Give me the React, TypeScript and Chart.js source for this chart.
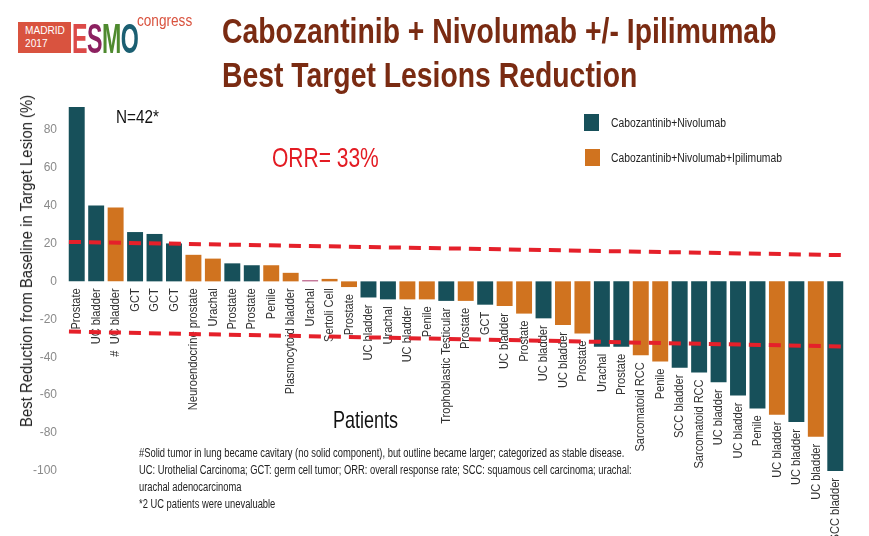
import React, { useEffect, useRef } from "react";
import { Chart, registerables } from "chart.js";

Chart.register(...registerables);

// ---- data ----
const patientLabels = [
  "Prostate", "UC bladder", "#  UC bladder", "GCT", "GCT", "GCT",
  "Neuroendocrine prostate", "Urachal", "Prostate", "Prostate", "Penile",
  "Plasmocytoid bladder", "Urachal", "Sertoli Cell", "Prostate", "UC bladder",
  "Urachal", "UC bladder", "Penile", "Trophoblastic Testicular", "Prostate",
  "GCT", "UC bladder", "Prostate", "UC bladder", "UC bladder", "Prostate",
  "Urachal", "Prostate", "Sarcomatoid RCC", "Penile", "SCC bladder",
  "Sarcomatoid RCC", "UC bladder", "UC bladder", "Penile", "UC bladder",
  "UC bladder", "UC bladder", "SCC bladder",
];

const reductionValues = [
  92, 40, 39, 26, 25, 20, 14, 12, 9.5, 8.5, 8.5, 4.5, 0.6, 1.3, -3, -8.5,
  -9.5, -9.5, -9.5, -10.3, -10.3, -12.3, -13, -17, -19.5, -23, -27.5, -34.5,
  -34.5, -39, -42.3, -45.5, -48, -53.2, -60.2, -67, -70.3, -74.2, -82, -100,
];

const treatmentArm = [
  "CN", "CN", "CNI", "CN", "CN", "CN", "CNI", "CNI", "CN", "CN", "CNI", "CNI",
  "OTHER", "CNI", "CNI", "CN", "CN", "CNI", "CNI", "CN", "CNI", "CN", "CNI",
  "CNI", "CN", "CNI", "CNI", "CN", "CN", "CNI", "CNI", "CN", "CN", "CN", "CN",
  "CN", "CNI", "CN", "CNI", "CN",
];

const yTickValues = [80, 60, 40, 20, 0, -20, -40, -60, -80, -100];

// dashed reference lines: start/end positions (bar index units) and values
const thresholdSpan = [-0.4, 39.6];
const upperThreshold = [20.8, 13.8];
const lowerThreshold = [-26.5, -34.4];

const armColors: Record<string, string> = {
  CN: "#17505a",
  CNI: "#d0731f",
  OTHER: "#b5527e",
};

const FONT = '"Liberation Sans", Arial, Helvetica, sans-serif';

const barLabelPlugin = {
  id: "barLabels",
  beforeDatasetsDraw(chart: any) {
    const ctx = chart.ctx;
    const xs = chart.scales.x;
    const ys = chart.scales.y;
    ctx.save();
    ctx.font = `13.5px ${FONT}`;
    ctx.fillStyle = "#333333";
    ctx.textAlign = "right";
    ctx.textBaseline = "middle";
    patientLabels.forEach((lab, i) => {
      const x = xs.getPixelForValue(i);
      const y = ys.getPixelForValue(Math.min(0, reductionValues[i])) + 7;
      ctx.save();
      ctx.translate(x, y);
      ctx.rotate(-Math.PI / 2);
      ctx.scale(0.82, 1);
      ctx.fillText(lab, 0, 0);
      ctx.restore();
    });
    ctx.restore();
  },
};

const thresholdPlugin = {
  id: "thresholds",
  afterDatasetsDraw(chart: any) {
    const ctx = chart.ctx;
    const xs = chart.scales.x;
    const ys = chart.scales.y;
    ctx.save();
    ctx.strokeStyle = "#e5202a";
    ctx.lineWidth = 4;
    ctx.setLineDash([12, 8]);
    [upperThreshold, lowerThreshold].forEach((vals) => {
      ctx.beginPath();
      ctx.moveTo(xs.getPixelForValue(thresholdSpan[0]), ys.getPixelForValue(vals[0]));
      ctx.lineTo(xs.getPixelForValue(thresholdSpan[1]), ys.getPixelForValue(vals[1]));
      ctx.stroke();
    });
    ctx.restore();
  },
};

function Txt(props: {
  x: number;
  baseline: number;
  size: number;
  color?: string;
  weight?: string | number;
  scale?: number;
  children: React.ReactNode;
}) {
  const { x, baseline, size, color = "#222", weight = "normal", scale = 1 } = props;
  return (
    <div
      style={{
        position: "absolute",
        left: x,
        top: baseline - 0.8465 * size,
        fontSize: size,
        lineHeight: `${size}px`,
        whiteSpace: "nowrap",
        color,
        fontWeight: weight as any,
        transform: `scaleX(${scale})`,
        transformOrigin: "left top",
        fontFamily: FONT,
      }}
    >
      {props.children}
    </div>
  );
}

export default function App() {
  const ref = useRef<HTMLCanvasElement>(null);

  useEffect(() => {
    const chart = new Chart(ref.current as HTMLCanvasElement, {
      type: "bar",
      data: {
        labels: patientLabels,
        datasets: [
          {
            data: reductionValues,
            backgroundColor: treatmentArm.map((a) => armColors[a]),
            borderWidth: 0,
            barPercentage: 0.82,
            categoryPercentage: 1,
          },
        ],
      },
      options: {
        animation: false,
        responsive: false,
        layout: { padding: { top: 105, bottom: 65, left: 0, right: 24 } },
        plugins: { legend: { display: false }, tooltip: { enabled: false } },
        scales: {
          x: { type: "category", display: false, offset: true },
          y: {
            min: -100,
            max: 93,
            border: { display: false },
            grid: { display: false, drawTicks: false },
            ticks: {
              color: "#8a8a8a",
              padding: 10,
              font: { size: 12, family: FONT },
            },
            afterBuildTicks: (scale: any) => {
              scale.ticks = yTickValues.map((v) => ({ value: v }));
            },
            afterFit: (scale: any) => {
              scale.width = 67;
            },
          },
        },
      } as any,
      plugins: [barLabelPlugin, thresholdPlugin],
    });
    return () => chart.destroy();
  }, []);

  return (
    <div
      style={{
        position: "absolute",
        left: 0,
        top: 0,
        width: 869,
        height: 536,
        background: "#fff",
        overflow: "hidden",
        fontFamily: FONT,
      }}
    >
      <canvas
        ref={ref}
        width={869}
        height={536}
        style={{ position: "absolute", left: 0, top: 0, width: 869, height: 536 }}
      />

      {/* logo */}
      <div style={{ position: "absolute", left: 18, top: 22, width: 53, height: 31, background: "#d9533f" }} />
      <Txt x={25} baseline={35} size={11.5} color="#fff" scale={0.88}>MADRID</Txt>
      <Txt x={25} baseline={48} size={11.5} color="#fff" scale={0.88}>2017</Txt>
      <div
        style={{
          position: "absolute",
          left: 72,
          top: 53 - 0.8465 * 43,
          fontSize: 43,
          lineHeight: "43px",
          fontWeight: "bold",
          whiteSpace: "nowrap",
          transform: "scaleX(0.54)",
          transformOrigin: "left top",
          letterSpacing: -1,
        }}
      >
        <span style={{ color: "#dc4a48" }}>E</span>
        <span style={{ color: "#8c2060" }}>S</span>
        <span style={{ color: "#4f8a2f" }}>M</span>
        <span style={{ color: "#1b5f72" }}>O</span>
      </div>
      <Txt x={137} baseline={26} size={17} color="#d9533f" scale={0.8}>congress</Txt>

      {/* title */}
      <Txt x={222} baseline={43} size={35} color="#7a2b12" weight="bold" scale={0.81}>
        Cabozantinib + Nivolumab +/- Ipilimumab
      </Txt>
      <Txt x={222} baseline={87} size={35} color="#7a2b12" weight="bold" scale={0.81}>
        Best Target Lesions Reduction
      </Txt>

      {/* annotations */}
      <Txt x={116} baseline={123} size={18} color="#111" scale={0.85}>N=42*</Txt>
      <Txt x={272} baseline={168} size={28} color="#e31b23" scale={0.75}>ORR= 33%</Txt>
      <Txt x={333} baseline={428} size={24} color="#111" scale={0.75}>Patients</Txt>

      {/* y axis title */}
      <div
        style={{
          position: "absolute",
          left: 27,
          top: 261,
          fontSize: 16,
          lineHeight: "16px",
          whiteSpace: "nowrap",
          color: "#222",
          transform: "translate(-50%, -50%) rotate(-90deg) scaleX(0.93)",
        }}
      >
        Best Reduction from Baseline in Target Lesion (%)
      </div>

      {/* legend */}
      <div style={{ position: "absolute", left: 584, top: 114, width: 15, height: 17, background: armColors.CN }} />
      <Txt x={611} baseline={127} size={12} color="#222" scale={0.86}>Cabozantinib+Nivolumab</Txt>
      <div style={{ position: "absolute", left: 585, top: 149, width: 15, height: 17, background: armColors.CNI }} />
      <Txt x={611} baseline={162} size={12} color="#222" scale={0.86}>Cabozantinib+Nivolumab+Ipilimumab</Txt>

      {/* footnote */}
      <Txt x={139} baseline={457} size={12} color="#222" scale={0.78}>
        #Solid tumor in lung became cavitary (no solid component), but outline became larger; categorized as stable disease.
      </Txt>
      <Txt x={139} baseline={474} size={12} color="#222" scale={0.78}>
        UC: Urothelial Carcinoma; GCT: germ cell tumor; ORR: overall response rate; SCC: squamous cell carcinoma; urachal:
      </Txt>
      <Txt x={139} baseline={491} size={12} color="#222" scale={0.78}>
        urachal adenocarcinoma
      </Txt>
      <Txt x={139} baseline={508} size={12} color="#222" scale={0.78}>
        *2 UC patients were unevaluable
      </Txt>
    </div>
  );
}
